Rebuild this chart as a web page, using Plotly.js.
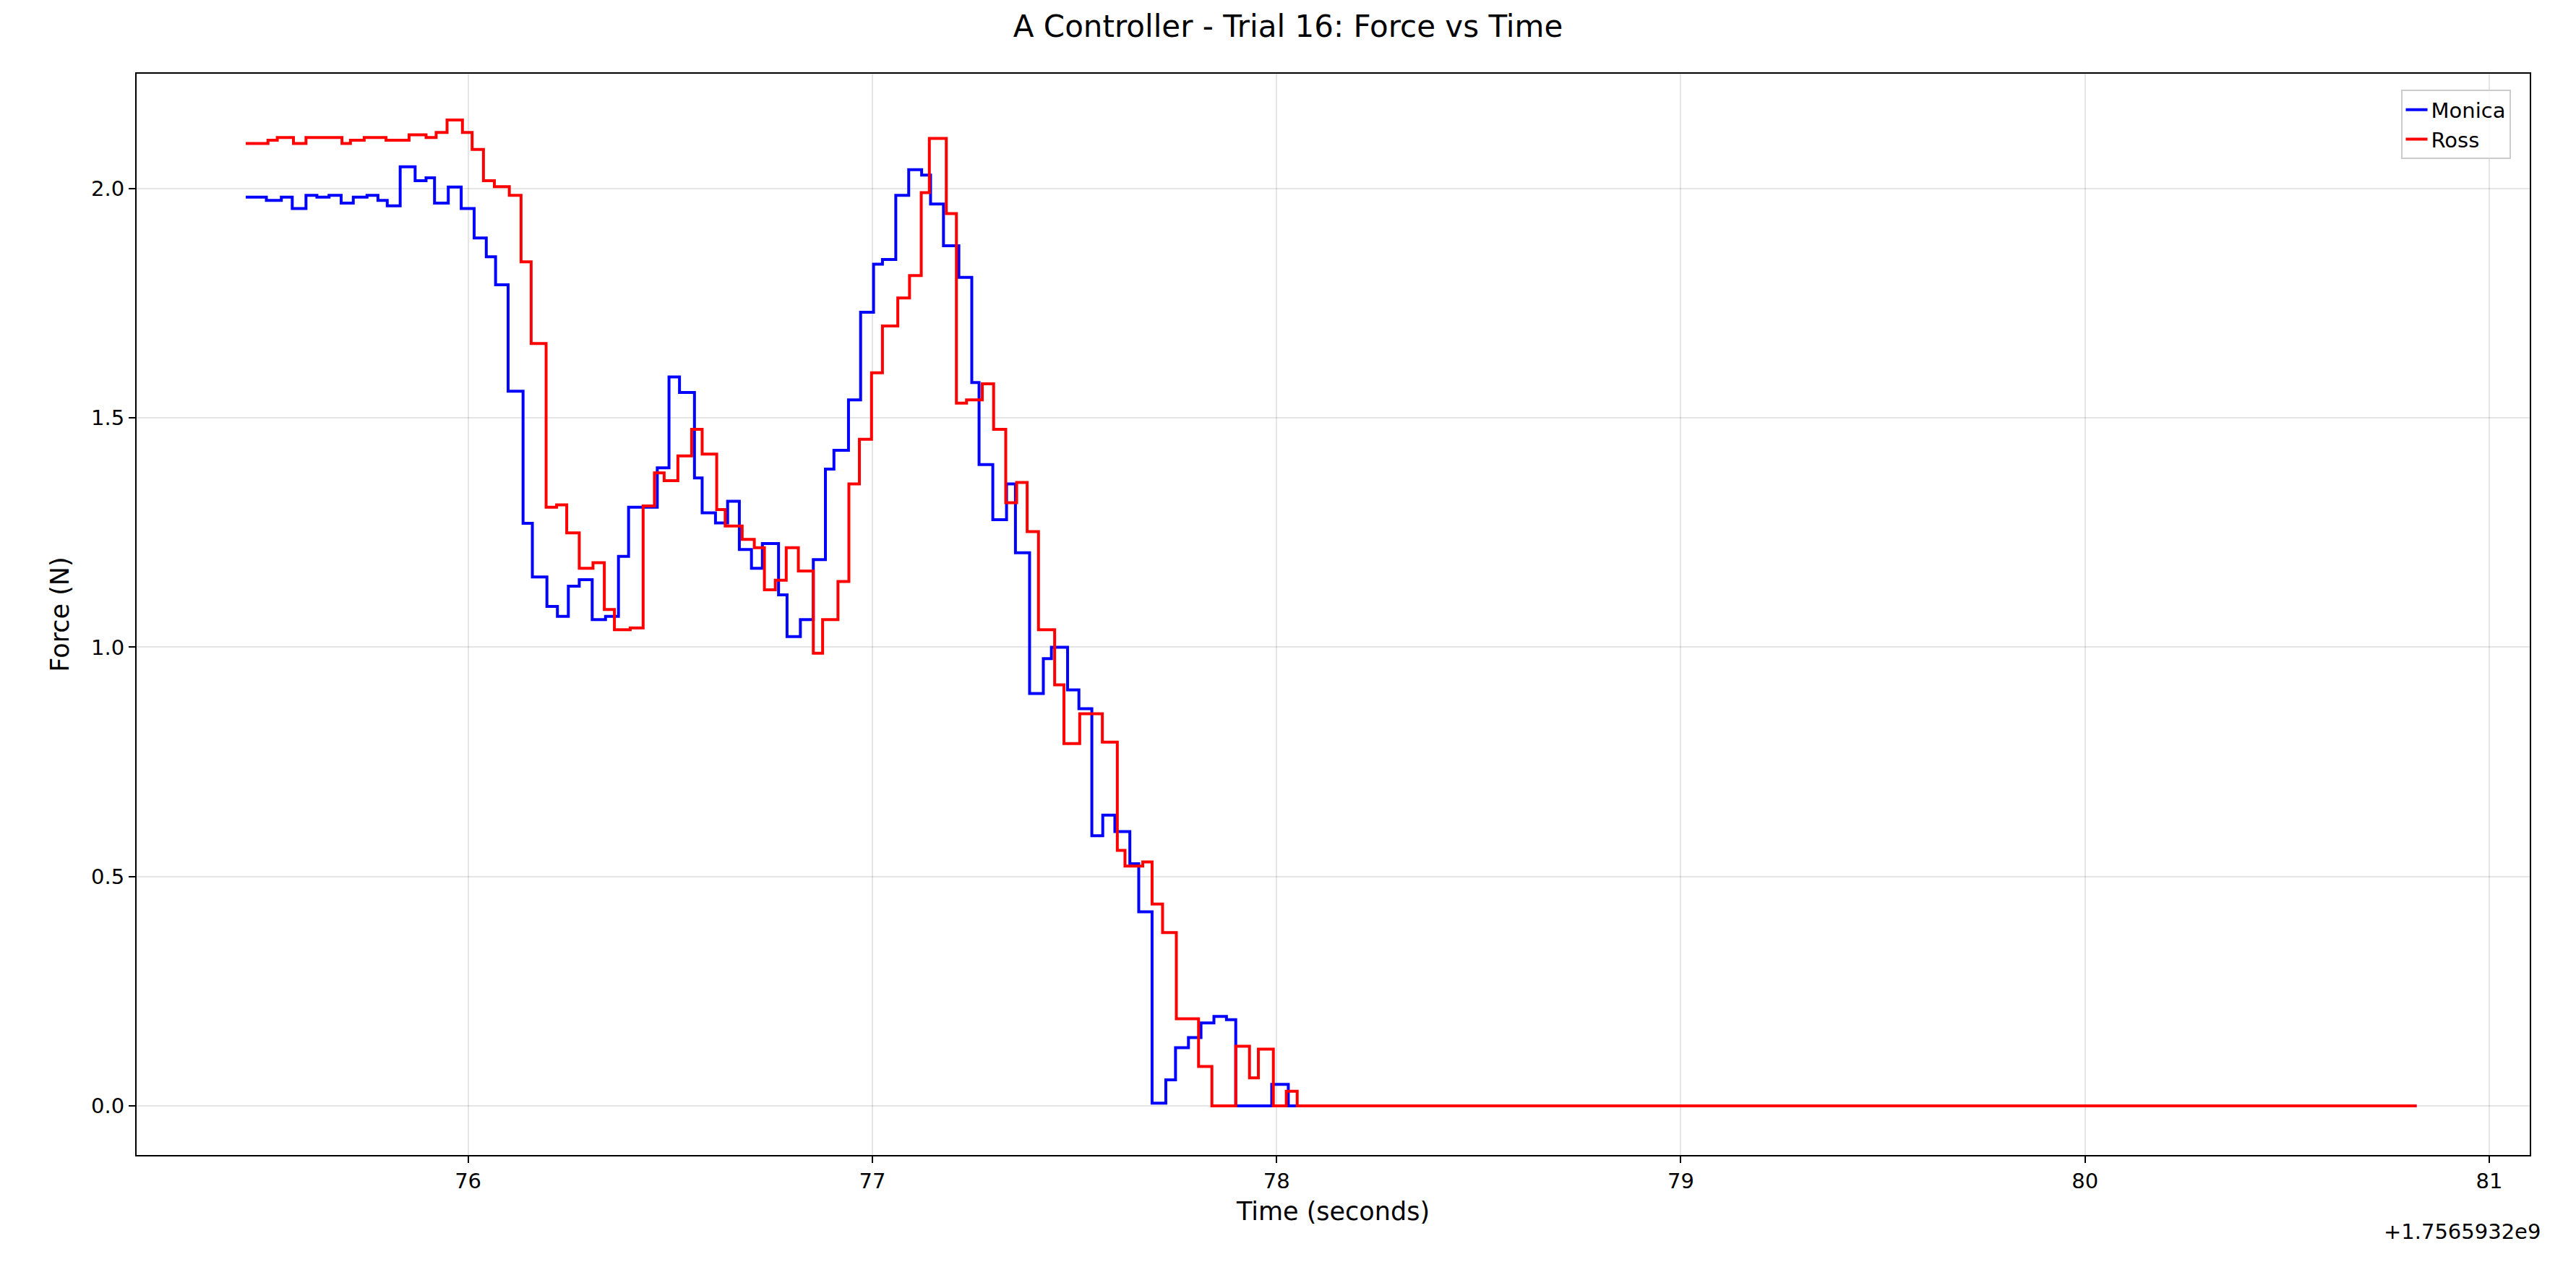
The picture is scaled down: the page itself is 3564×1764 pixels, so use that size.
<!DOCTYPE html>
<html>
<head>
<meta charset="utf-8">
<script src="https://cdn.plot.ly/plotly-3.0.1.min.js"></script>
<style>body{margin:0;background:#fff}#chart{width:3564px;height:1764px}</style>
</head>
<body>
<div id="chart"></div>
<script>
// Time offsets (seconds, +1.7565932e9) and force values, step-wise
const monicaTime = [75.45,75.501,75.538,75.565,75.599,75.626,75.656,75.686,75.716,75.750,75.777,75.800,75.832,75.869,75.896,75.917,75.951,75.983,76.015,76.045,76.068,76.099,76.136,76.159,76.195,76.221,76.248,76.275,76.307,76.340,76.372,76.397,76.468,76.497,76.523,76.560,76.579,76.612,76.642,76.671,76.701,76.728,76.768,76.789,76.822,76.854,76.884,76.905,76.941,76.971,77.003,77.025,77.058,77.090,77.122,77.144,77.176,77.214,77.246,77.264,77.298,77.332,77.354,77.389,77.423,77.443,77.483,77.511,77.543,77.570,77.600,77.637,77.659,77.692,77.726,77.750,77.782,77.813,77.845,77.876,77.899,77.988,78.029,80.82];
const monicaForce = [1.981,1.974,1.981,1.956,1.985,1.981,1.985,1.968,1.981,1.985,1.974,1.962,2.047,2.017,2.023,1.968,2.003,1.956,1.892,1.851,1.790,1.558,1.270,1.153,1.089,1.067,1.133,1.147,1.060,1.067,1.198,1.305,1.391,1.589,1.555,1.369,1.293,1.271,1.318,1.213,1.172,1.226,1.114,1.023,1.060,1.191,1.388,1.429,1.539,1.730,1.835,1.845,1.985,2.041,2.029,1.966,1.875,1.806,1.577,1.398,1.278,1.356,1.206,0.899,0.975,1.000,0.907,0.866,0.589,0.634,0.598,0.528,0.423,0.006,0.057,0.127,0.149,0.181,0.195,0.188,0,0.047,0,0];

const rossTime = [75.45,75.505,75.528,75.568,75.599,75.688,75.709,75.743,75.797,75.854,75.896,75.921,75.948,75.986,76.010,76.038,76.065,76.102,76.131,76.156,76.193,76.219,76.244,76.275,76.309,76.337,76.362,76.401,76.433,76.461,76.485,76.519,76.553,76.579,76.615,76.636,76.678,76.708,76.733,76.760,76.787,76.817,76.854,76.877,76.915,76.942,76.968,76.998,77.025,77.063,77.092,77.121,77.141,77.183,77.208,77.233,77.272,77.300,77.330,77.357,77.383,77.411,77.451,77.474,77.513,77.569,77.606,77.625,77.669,77.692,77.718,77.752,77.807,77.840,77.899,77.933,77.955,77.992,78.024,78.051,80.82];
const rossForce = [2.098,2.105,2.111,2.098,2.111,2.098,2.105,2.111,2.105,2.117,2.111,2.122,2.149,2.122,2.085,2.017,2.004,1.985,1.840,1.662,1.305,1.310,1.249,1.172,1.184,1.082,1.038,1.042,1.308,1.380,1.363,1.417,1.475,1.421,1.300,1.264,1.235,1.217,1.125,1.146,1.217,1.166,0.987,1.060,1.143,1.356,1.453,1.598,1.700,1.761,1.810,1.991,2.109,1.945,1.532,1.539,1.574,1.475,1.315,1.359,1.252,1.038,0.918,0.790,0.855,0.793,0.557,0.523,0.532,0.440,0.378,0.190,0.086,0,0.130,0.061,0.124,0,0.032,0,0];

const xTicks = [76, 77, 78, 79, 80, 81];
const yTicks = [0.0, 0.5, 1.0, 1.5, 2.0];

const FONT = 'DejaVu Sans, sans-serif';

const data = [
  {x: monicaTime, y: monicaForce, name: 'Monica', type: 'scatter', mode: 'lines',
   line: {color: '#0000ff', width: 4, shape: 'hv'}},
  {x: rossTime, y: rossForce, name: 'Ross', type: 'scatter', mode: 'lines',
   line: {color: '#ff0000', width: 4, shape: 'hv'}}
];

const axisCommon = {
  showline: true, linecolor: '#000', linewidth: 2, mirror: true,
  ticks: 'outside', ticklen: 9, tickwidth: 2, tickcolor: '#000',
  showgrid: true, gridcolor: 'rgba(0,0,0,0.1)', gridwidth: 2,
  zeroline: false, tickfont: {family: FONT, size: 29, color: '#000'}
};

const layout = {
  width: 3564, height: 1764,
  paper_bgcolor: '#fff', plot_bgcolor: '#fff',
  margin: {l: 189, r: 64, t: 102, b: 166},
  title: {text: 'A Controller - Trial 16: Force vs Time', x: 0.5, xanchor: 'center', y: 0.988, yanchor: 'top',
          font: {family: FONT, size: 42, color: '#000'}},
  xaxis: Object.assign({}, axisCommon, {
    range: [75.18, 81.1], tickvals: xTicks, ticktext: xTicks.map(String),
    title: {text: 'Time (seconds)', font: {family: FONT, size: 35, color: '#000'}, standoff: 14}
  }),
  yaxis: Object.assign({}, axisCommon, {
    range: [-0.107, 2.25], tickvals: yTicks, ticktext: yTicks.map(v => v.toFixed(1)),
    title: {text: 'Force (N)', font: {family: FONT, size: 35, color: '#000'}, standoff: 20}
  }),
  legend: {x: 0.992, y: 0.985, xanchor: 'right', yanchor: 'top',
           bgcolor: 'rgba(255,255,255,0.8)', bordercolor: '#ccc', borderwidth: 2,
           font: {family: FONT, size: 29, color: '#000'}},
  annotations: [{text: '+1.7565932e9', xref: 'paper', yref: 'paper', x: 1.005, y: -0.058,
                 xanchor: 'right', yanchor: 'top', showarrow: false,
                 font: {family: FONT, size: 29, color: '#000'}}],
  showlegend: true
};

Plotly.newPlot('chart', data, layout, {displayModeBar: false, staticPlot: true});
</script>
</body>
</html>
